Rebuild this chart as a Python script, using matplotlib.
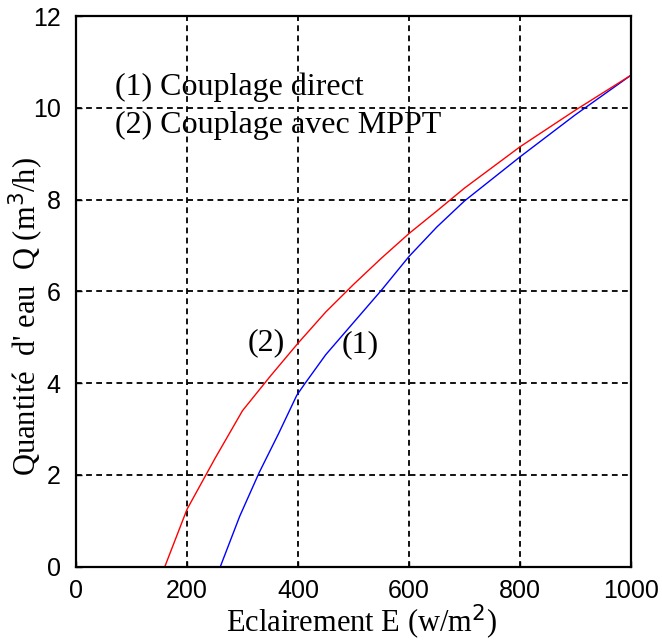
import matplotlib
matplotlib.use("Agg")
import matplotlib.pyplot as plt

# Irradiance (W/m^2) and water flow (m^3/h) for the two coupling modes
E_direct = [260, 295, 330, 365, 398, 413, 450, 500, 550, 600, 650, 700, 800, 900, 1000]
Q_direct = [0.0, 1.1, 2.05, 2.9, 3.74, 4.0, 4.62, 5.32, 6.02, 6.76, 7.4, 7.97, 8.93, 9.85, 10.71]

E_mppt = [160, 200, 250, 300, 350, 400, 450, 500, 550, 600, 650, 700, 800, 900, 1000]
Q_mppt = [0.0, 1.25, 2.35, 3.4, 4.15, 4.87, 5.55, 6.15, 6.72, 7.26, 7.75, 8.25, 9.15, 9.95, 10.71]

x_ticks = [0, 200, 400, 600, 800, 1000]
y_ticks = [0, 2, 4, 6, 8, 10, 12]

serif = "Liberation Serif"
sans = "Liberation Sans"

fig = plt.figure(figsize=(6.62, 6.44), dpi=100)
ax = fig.add_axes([76 / 662, (644 - 566.7) / 644, (631 - 76) / 662, (566.7 - 16) / 644])

ax.plot(E_direct, Q_direct, color="blue", lw=1.0)
ax.plot(E_mppt, Q_mppt, color="red", lw=1.0)

ax.set_xlim(0, 1000)
ax.set_ylim(0, 12)
ax.set_xticks(x_ticks)
ax.set_yticks(y_ticks)
ax.grid(True, color="black", linestyle=(0, (3.2, 2.4)), linewidth=1.3)
ax.tick_params(direction="in", length=4, labelsize=18, width=1.0)
ax.tick_params(axis="x", pad=9)
ax.tick_params(axis="y", pad=11)
for lab in ax.get_xticklabels() + ax.get_yticklabels():
    lab.set_fontfamily(sans)
for s in ax.spines.values():
    s.set_linewidth(1.6)

ax.text(70, 10.28, "(1) Couplage direct", fontsize=23, family=serif, va="baseline", ha="left")
ax.text(70, 9.45, "(2) Couplage avec MPPT", fontsize=23, family=serif, va="baseline", ha="left")
ax.text(343, 4.71, "(2)", fontsize=23, family=serif, va="baseline", ha="center")
ax.text(512, 4.68, "(1)", fontsize=23, family=serif, va="baseline", ha="center")

ax.set_xlabel(r"Eclairement E (w/m$^{2}$)", fontsize=22, family=serif)
ax.xaxis.set_label_coords(0.514, -0.120)
ax.xaxis.label.set_verticalalignment("baseline")

ax.set_ylabel(r"Quantité  d' eau  Q (m$^{3}$/h)", fontsize=22, family=serif)
ax.yaxis.set_label_coords(-0.0703, 0.455)
ax.yaxis.label.set_verticalalignment("baseline")

fig.savefig("out.png", dpi=100, facecolor="white")
